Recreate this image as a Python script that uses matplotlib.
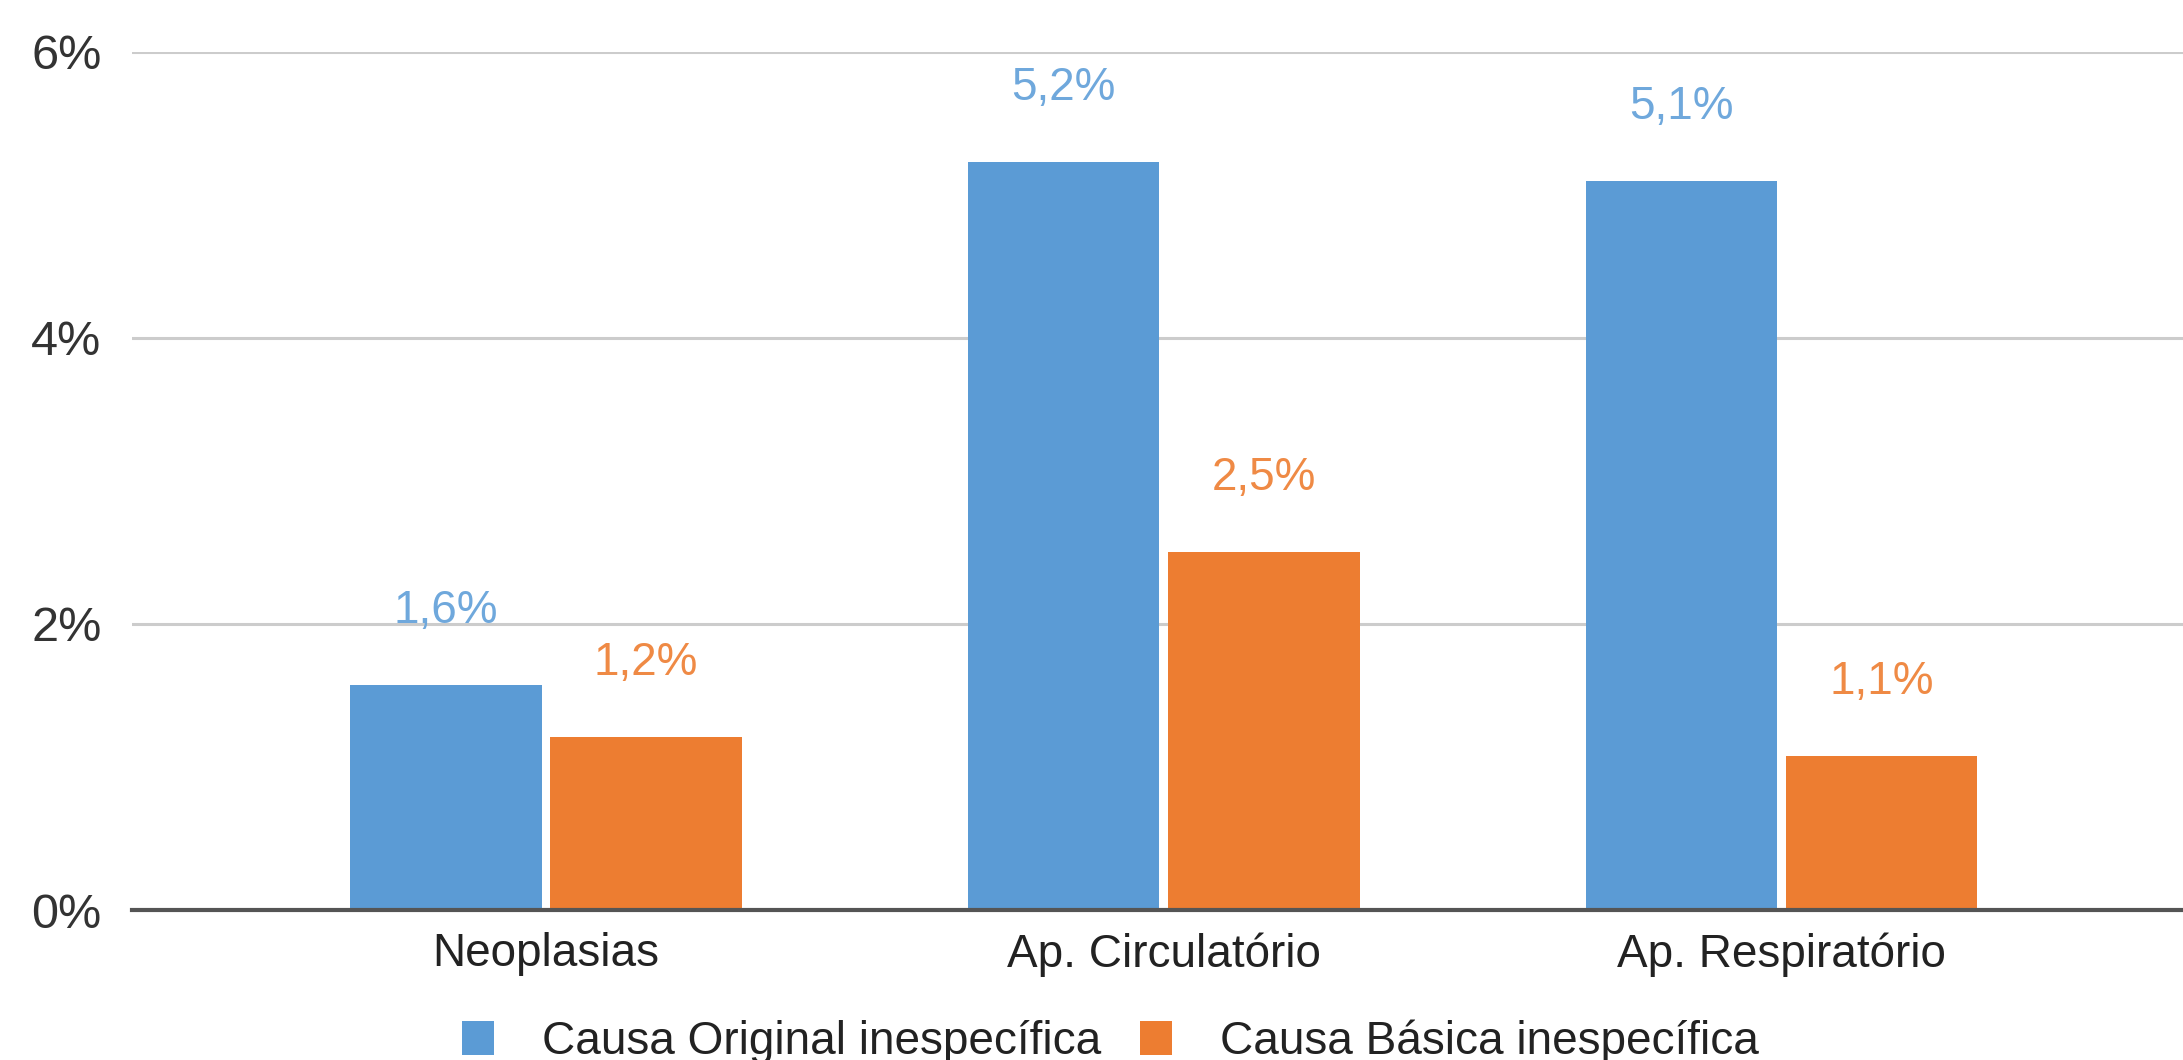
import matplotlib
matplotlib.use('Agg')
import matplotlib.pyplot as plt
import numpy as np

#########
categories = ['Neoplasias', 'Ap. Circulatório', 'Ap. Respiratório']
original = [1.57, 5.23, 5.10]     # Causa Original inespecífica
basica = [1.21, 2.50, 1.08]       # Causa Básica inespecífica
original_lbl = ['1,6%', '5,2%', '5,1%']
basica_lbl = ['1,2%', '2,5%', '1,1%']
yticks = [0, 2, 4, 6]
ytick_lbl = ['0%', '2%', '4%', '6%']

blue = '#5b9bd5'
orange = '#ed7d31'

plt.rcParams['font.family'] = ['Liberation Sans', 'DejaVu Sans']

fig = plt.figure(figsize=(21.83, 10.60), dpi=100)
ax = fig.add_axes([0.0605, 0.1415, 0.9395, 0.8095])

x = np.arange(len(categories))
w = 0.31
gap = 0.007
b1 = ax.bar(x - w / 2 - gap, original, w, color=blue, zorder=3, label='Causa Original inespecífica')
b2 = ax.bar(x + w / 2 + gap, basica, w, color=orange, zorder=3, label='Causa Básica inespecífica')

for rect, t in zip(b1, original_lbl):
    ax.annotate(t, (rect.get_x() + rect.get_width() / 2, rect.get_height()),
                xytext=(0, 74), textcoords='offset pixels', ha='center', va='center',
                fontsize=33, color='#6fa8dc')
for rect, t in zip(b2, basica_lbl):
    ax.annotate(t, (rect.get_x() + rect.get_width() / 2, rect.get_height()),
                xytext=(0, 74), textcoords='offset pixels', ha='center', va='center',
                fontsize=33, color='#ef8a45')

ax.set_ylim(0, 6)
ax.set_xlim(-0.67, 2.65)
ax.set_yticks(yticks)
ax.set_yticklabels(ytick_lbl, fontsize=35, color='#333333')
ax.set_xticks(x)
ax.set_xticklabels(categories, fontsize=33, color='#222222')
ax.tick_params(axis='y', length=0, pad=22)
ax.tick_params(axis='x', length=0, pad=16)

ax.grid(axis='y', color='#cccccc', linewidth=2.2, zorder=0)
ax.set_axisbelow(True)
for s in ['top', 'right', 'left']:
    ax.spines[s].set_visible(False)
ax.spines['bottom'].set_color('#555555')
ax.spines['bottom'].set_linewidth(3)
ax.spines['bottom'].set_zorder(4)

ax.legend(loc='center', bbox_to_anchor=(0.477, -0.153), ncol=2, frameon=False,
          fontsize=33, handlelength=0.7, handleheight=0.76, columnspacing=0.85,
          handletextpad=1.05, labelcolor='#222222', borderaxespad=0, borderpad=0)

fig.savefig('out.png', dpi=100, facecolor='white')
